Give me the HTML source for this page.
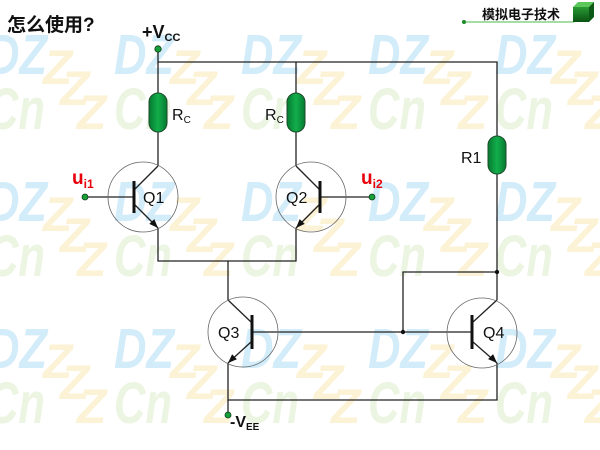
<!DOCTYPE html>
<html><head><meta charset="utf-8"><style>
html,body{margin:0;padding:0;background:#fff;}
svg{display:block;}
</style></head><body>
<svg width="600" height="450" viewBox="0 0 600 450" xmlns="http://www.w3.org/2000/svg">
<defs>
<pattern id="wm" patternUnits="userSpaceOnUse" x="-13" y="33" width="127" height="147">
<text x="0" y="41" font-family="Liberation Sans, sans-serif" font-weight="bold" font-style="italic" font-size="57" fill="#d3ecfa" textLength="60" lengthAdjust="spacingAndGlyphs">DZ</text>
<text x="0" y="96" font-family="Liberation Sans, sans-serif" font-weight="bold" font-style="italic" font-size="58" fill="#ebf5e1" textLength="58" lengthAdjust="spacingAndGlyphs">Cn</text>
<text x="56" y="51" font-family="Liberation Sans, sans-serif" font-weight="bold" font-style="italic" font-size="48" fill="#fcf2d6">Z</text>
<text x="73" y="72" font-family="Liberation Sans, sans-serif" font-weight="bold" font-style="italic" font-size="48" fill="#fcf2d6">Z</text>
<text x="90" y="96" font-family="Liberation Sans, sans-serif" font-weight="bold" font-style="italic" font-size="48" fill="#fcf2d6">Z</text>
</pattern>
<linearGradient id="rg" x1="0" y1="0" x2="1" y2="0">
<stop offset="0" stop-color="#067a30"/><stop offset="0.5" stop-color="#12ae4c"/><stop offset="1" stop-color="#067a30"/>
</linearGradient>
<linearGradient id="cf" x1="0" y1="0" x2="0" y2="1">
<stop offset="0" stop-color="#2a9a35"/><stop offset="1" stop-color="#0a5212"/>
</linearGradient>
</defs>
<rect x="0" y="0" width="600" height="450" fill="#fff"/>
<rect x="0" y="30" width="600" height="420" fill="url(#wm)"/>

<!-- header -->
<text x="7" y="31" font-family="Liberation Sans, 'Noto Sans CJK SC', sans-serif" font-weight="bold" font-size="19" fill="#111">怎么使用?</text>
<text x="482" y="19" font-family="Liberation Sans, 'Noto Sans CJK SC', sans-serif" font-weight="bold" font-size="13" fill="#111">模拟电子技术</text>
<line x1="464" y1="22" x2="574" y2="22" stroke="#4cb84c" stroke-width="1"/>
<circle cx="464" cy="22" r="2" fill="#1a8a2a"/>
<polygon points="573,7 578,2 594,2 589,7" fill="#5cc85c"/>
<polygon points="589,7 594,2 594,17 589,22" fill="#0b5a16"/>
<rect x="573" y="7" width="16" height="15" fill="url(#cf)"/>

<g stroke="#222" stroke-width="1.3" fill="none">
<polyline points="158,49 158,62 497,62 497,136"/>
<line x1="158" y1="62" x2="158" y2="93"/>
<line x1="296" y1="62" x2="296" y2="93"/>
<line x1="158" y1="132" x2="158" y2="166"/>
<line x1="296" y1="132" x2="296" y2="166"/>
<line x1="497" y1="174" x2="497" y2="300"/>
<line x1="135" y1="189" x2="158" y2="166"/>
<line x1="135" y1="205" x2="158" y2="228"/>
<line x1="85" y1="197" x2="133" y2="197"/>
<line x1="319" y1="189" x2="296" y2="166"/>
<line x1="319" y1="205" x2="296" y2="228"/>
<line x1="321" y1="197" x2="372" y2="197"/>
<polyline points="158,228 158,261 296,261 296,228"/>
<line x1="228" y1="261" x2="228" y2="300"/>
<line x1="251" y1="322" x2="228" y2="300"/>
<line x1="251" y1="342" x2="228" y2="363"/>
<line x1="252" y1="332" x2="472" y2="332"/>
<line x1="473" y1="322" x2="497" y2="300"/>
<line x1="473" y1="342" x2="497" y2="363"/>
<polyline points="497,272 403,272 403,332"/>
<polyline points="228,363 228,400 497,400 497,363"/>
<line x1="228" y1="400" x2="228" y2="415"/>
</g>

<g fill="#111">
<rect x="132.5" y="181" width="3" height="32"/>
<rect x="318.5" y="181" width="3" height="32"/>
<rect x="250.5" y="315" width="3" height="34"/>
<rect x="470.5" y="315" width="3" height="34"/>
<polygon points="158,228 149.3,223.9 154.3,219.1"/>
<polygon points="296,228 304.7,223.9 299.7,219.1"/>
<polygon points="228,363 236.9,359.3 232.1,354.3"/>
<polygon points="497,363 488.1,359.1 493.1,354.1"/>
<circle cx="403" cy="332" r="2.2"/>
<circle cx="497" cy="272" r="2.2"/>
</g>

<g stroke="#666" stroke-width="0.8" fill="none">
<circle cx="143" cy="197" r="35"/>
<circle cx="311" cy="197" r="35"/>
<circle cx="243" cy="332" r="35"/>
<circle cx="482" cy="333" r="35"/>
</g>

<g fill="url(#rg)" stroke="#1d4a2a" stroke-width="1">
<rect x="149" y="93" width="18" height="39" rx="9" ry="9"/>
<rect x="287" y="93" width="18" height="39" rx="9" ry="9"/>
<rect x="488" y="136" width="18" height="38" rx="9" ry="9"/>
</g>

<g fill="#17a03a" stroke="#0a3a14" stroke-width="0.8">
<circle cx="158" cy="49" r="3.2"/>
<circle cx="85" cy="197" r="3"/>
<circle cx="372" cy="197" r="3"/>
<circle cx="228" cy="415" r="3"/>
</g>

<g font-family="Liberation Sans, sans-serif" fill="#111">
<text x="142" y="38" font-size="18" font-weight="bold">+V<tspan font-size="11" dy="3">CC</tspan></text>
<text x="172" y="120" font-size="16">R<tspan font-size="10" dy="3">C</tspan></text>
<text x="265" y="120" font-size="16">R<tspan font-size="10" dy="3">C</tspan></text>
<text x="461" y="163" font-size="16">R1</text>
<text x="143" y="203" font-size="16">Q1</text>
<text x="286" y="203" font-size="16">Q2</text>
<text x="218" y="338" font-size="16">Q3</text>
<text x="483" y="338" font-size="16">Q4</text>
<text x="230" y="427" font-size="16" font-weight="bold">-V<tspan font-size="10" dy="3">EE</tspan></text>
</g>
<g font-family="Liberation Sans, sans-serif" fill="#e8000b" font-weight="bold">
<text x="72" y="184" font-size="19">u<tspan font-size="12" dy="4">i1</tspan></text>
<text x="361" y="184" font-size="19">u<tspan font-size="12" dy="4">i2</tspan></text>
</g>
</svg>
</body></html>
